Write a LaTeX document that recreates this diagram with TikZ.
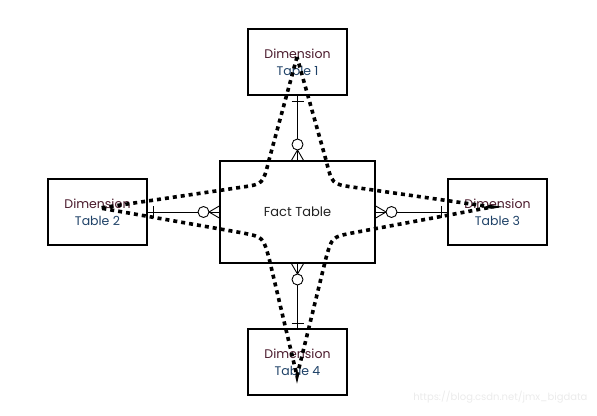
\documentclass[tikz,border=0pt]{standalone}
\usepackage{fontspec}
\setmainfont{Poppins}
\usetikzlibrary{arrows.meta}
\definecolor{dimred}{HTML}{4A1A2C}
\definecolor{tabblue}{HTML}{1F4268}
\definecolor{facttxt}{HTML}{222222}
\tikzset{
  tbl/.style={draw=black, line width=1.5pt, fill=white, inner sep=0pt},
  dimbox/.style={tbl, minimum width=99pt, minimum height=66pt},
  factbox/.style={tbl, minimum width=155pt, minimum height=102pt},
  rel/.style={draw=black, line width=0.9pt},
  ring/.style={circle, draw=black, line width=0.9pt, fill=white, minimum size=11pt, inner sep=0pt},
  starline/.style={draw=black, line width=3.6pt, dash pattern=on 4pt off 4pt},
  lbl/.style={font=\fontsize{12.5pt}{17pt}\selectfont, align=center},
}
\newcommand{\dimtxt}[1]{\textcolor{dimred}{Dimension}\\\textcolor{tabblue}{Table #1}}
\begin{document}
\begin{tikzpicture}[x=1pt,y=-1pt]
\useasboundingbox (0,0) rectangle (597,415);
% tables
\node[dimbox] (d1) at (297.5,62) {};
\node[dimbox] (d2) at (97.5,212) {};
\node[factbox] (f) at (297.5,212) {};
\node[dimbox] (d3) at (497.5,212) {};
\node[dimbox] (d4) at (297.5,362) {};
% relationship lines
\draw[rel] (d1.south) -- (f.north);
\draw[rel] (d2.east) -- (f.west);
\draw[rel] (d3.west) -- (f.east);
\draw[rel] (d4.north) -- (f.south);
% bars
\coordinate (b1) at (297.5,101);
\coordinate (b2) at (153,212);
\coordinate (b3) at (441,212);
\coordinate (b4) at (297.5,323);
\draw[rel] ([xshift=-6pt]b1) -- ([xshift=6pt]b1);
\draw[rel] ([yshift=-6pt]b2) -- ([yshift=6pt]b2);
\draw[rel] ([yshift=-6pt]b3) -- ([yshift=6pt]b3);
\draw[rel] ([xshift=-6pt]b4) -- ([xshift=6pt]b4);
% crow feet
\coordinate (c1) at (297.5,150);
\coordinate (c2) at (209,212);
\coordinate (c3) at (386,212);
\coordinate (c4) at (297.5,274);
\draw[rel] ([xshift=-6pt]f.north) -- (c1) -- ([xshift=6pt]f.north);
\draw[rel] ([yshift=-6pt]f.west) -- (c2) -- ([yshift=6pt]f.west);
\draw[rel] ([yshift=-6pt]f.east) -- (c3) -- ([yshift=6pt]f.east);
\draw[rel] ([xshift=-6pt]f.south) -- (c4) -- ([xshift=6pt]f.south);
% rings
\node[ring] (r1) at (297.5,144.5) {};
\node[ring] (r2) at (203.5,212) {};
\node[ring] (r3) at (391.5,212) {};
\node[ring] (r4) at (297.5,279.5) {};
% labels
\node[lbl] (t1) at (d1) {\dimtxt{1}};
\node[lbl] (t2) at (d2) {\dimtxt{2}};
\node[lbl] (t3) at (d3) {\dimtxt{3}};
\node[lbl] (t4) at (d4) {\dimtxt{4}};
\node[lbl, text=facttxt, font=\fontsize{13pt}{17pt}\selectfont] (ft) at (f) {Fact Table};
% star outline
\coordinate (T) at (297,57);
\coordinate (L) at (100,208);
\coordinate (B) at (297,376);
\coordinate (R) at (492,207);
\draw[starline] (T) -- (269,160) .. controls (263,184) .. (243,187) -- (L)
  -- (243,233) .. controls (263,237) .. (269,258) -- (B)
  -- (326,258) .. controls (332,237) .. (352,233) -- (R)
  -- (352,187) .. controls (332,184) .. (326,160) -- cycle;
% watermark
\node[font=\fontsize{10pt}{12pt}\selectfont, text=black!8, anchor=east] (wm) at (591,397) {https://blog.csdn.net/jmx\_bigdata};
\end{tikzpicture}
\end{document}
